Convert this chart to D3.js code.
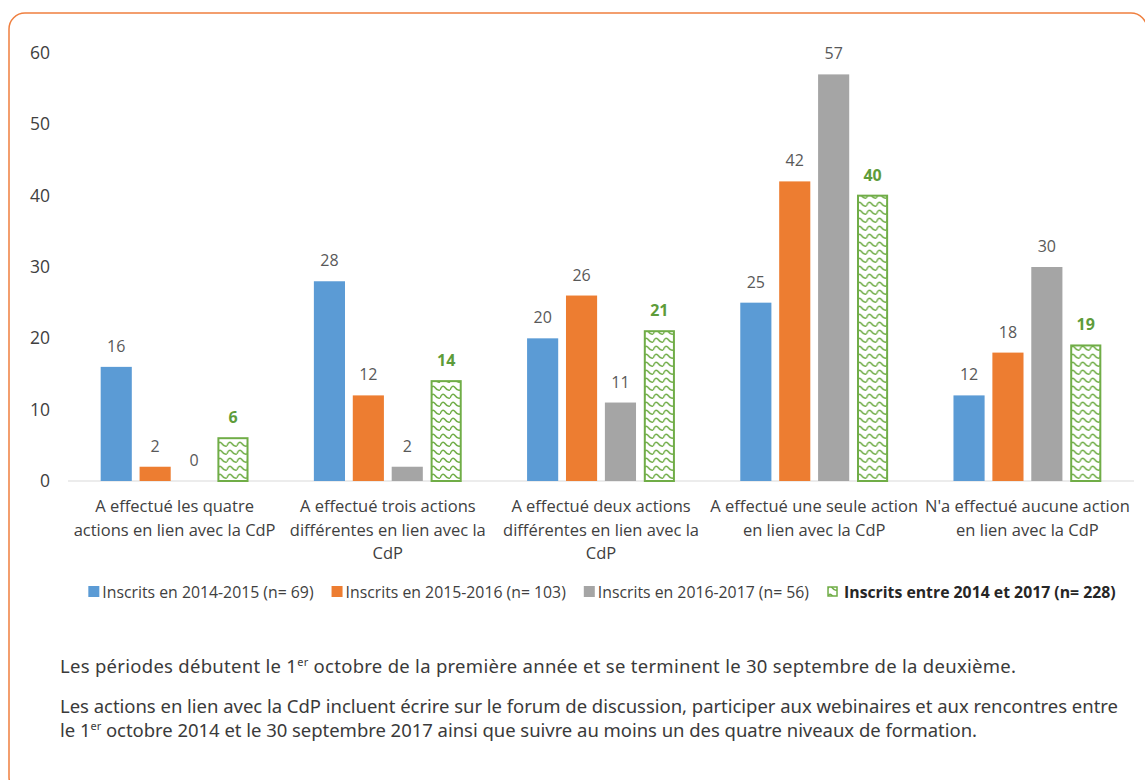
<!DOCTYPE html>
<html>
<head>
<meta charset="utf-8">
<script src="https://cdn.jsdelivr.net/npm/d3@7"></script>
<style>
  body { margin: 0; background: #fff; }
  svg { display: block; font-family: "Open Sans", sans-serif; }
</style>
</head>
<body>
<script>
var categories = [
  ["A effectué les quatre", "actions en lien avec la CdP"],
  ["A effectué trois actions", "différentes en lien avec la", "CdP"],
  ["A effectué deux actions", "différentes en lien avec la", "CdP"],
  ["A effectué une seule action", "en lien avec la CdP"],
  ["N'a effectué aucune action", "en lien avec la CdP"]
];
var seriesNames = [
  "Inscrits en 2014-2015 (n= 69)",
  "Inscrits en 2015-2016 (n= 103)",
  "Inscrits en 2016-2017 (n= 56)",
  "Inscrits entre 2014 et 2017 (n= 228)"
];
var s2014 = [16, 28, 20, 25, 12];
var s2015 = [2, 12, 26, 42, 18];
var s2016 = [0, 2, 11, 57, 30];
var sAll = [6, 14, 21, 40, 19];
var yTicks = [0, 10, 20, 30, 40, 50, 60];
var colors = ["#5b9bd5", "#ed7d31", "#a5a5a5", "#70ad47"];

var series = [s2014, s2015, s2016, sAll];

var W = 1145, H = 780;
var svg = d3.select("body").append("svg").attr("width", W).attr("height", H);

// frame
svg.append("rect")
  .attr("x", 9).attr("y", 13).attr("width", 1138).attr("height", 780)
  .attr("rx", 16).attr("ry", 16)
  .attr("fill", "none").attr("stroke", "#ef7f3f").attr("stroke-width", 1.5);

var defs = svg.append("defs");
var pat = defs.append("pattern")
  .attr("id", "wave").attr("patternUnits", "userSpaceOnUse")
  .attr("width", 10).attr("height", 8);
pat.append("rect").attr("width", 10).attr("height", 8).attr("fill", "#fff");
pat.append("path")
  .attr("d", "M0,6 Q2.5,0 5,3.5 T10,6")
  .attr("fill", "none").attr("stroke", "#70ad47").attr("stroke-width", 1.5);

var x0 = d3.scaleBand().domain(d3.range(categories.length)).range([68, 1134]).paddingInner(0.27).paddingOuter(0.135);
var x1 = d3.scaleBand().domain(d3.range(4)).range([0, x0.bandwidth()]).paddingInner(0.2).paddingOuter(0.1);
var y = d3.scaleLinear().domain([0, 60]).range([481, 53]);

// y tick labels
svg.selectAll(".ytick").data(yTicks).enter().append("text")
  .attr("x", 50).attr("y", function(d) { return y(d); })
  .attr("dy", "0.35em").attr("text-anchor", "end")
  .attr("font-size", 17.5).attr("fill", "#404040")
  .text(function(d) { return d; });

// baseline
svg.append("line")
  .attr("x1", 68).attr("x2", 1134).attr("y1", y(0)).attr("y2", y(0))
  .attr("stroke", "#d9d9d9").attr("stroke-width", 1);

var groups = svg.selectAll(".grp").data(categories).enter().append("g")
  .attr("transform", function(d, i) { return "translate(" + x0(i) + ",0)"; });

series.forEach(function(vals, si) {
  groups.append("rect")
    .attr("x", x1(si) + (si === 3 ? 1 : 0))
    .attr("width", x1.bandwidth() - (si === 3 ? 2 : 0))
    .attr("y", function(d, i) { return y(vals[i]); })
    .attr("height", function(d, i) { return y(0) - y(vals[i]); })
    .attr("fill", si === 3 ? "url(#wave)" : colors[si])
    .attr("stroke", si === 3 ? "#70ad47" : "none")
    .attr("stroke-width", 2);
  groups.append("text")
    .attr("x", x1(si) + x1.bandwidth() / 2)
    .attr("y", function(d, i) { return y(vals[i]) - 15; })
    .attr("text-anchor", "middle")
    .attr("font-size", 16)
    .attr("font-weight", si === 3 ? "bold" : "normal")
    .attr("fill", si === 3 ? "#5e9c3a" : "#595959")
    .text(function(d, i) { return vals[i]; });
});

// category labels
groups.append("text")
  .attr("text-anchor", "middle")
  .attr("font-size", 16.5).attr("fill", "#404040")
  .each(function(d) {
    var t = d3.select(this);
    d.forEach(function(line, li) {
      t.append("tspan").attr("x", x0.bandwidth() / 2).attr("y", 512 + li * 23.5).text(line);
    });
  });

// legend
var leg = svg.append("g");
var lx = 0;
seriesNames.forEach(function(name, i) {
  var g = leg.append("g").attr("transform", "translate(" + lx + ",0)");
  if (i === 3) {
    g.append("rect").attr("x", 1).attr("y", -5).attr("width", 9).attr("height", 9)
      .attr("fill", "url(#wave)").attr("stroke", "#70ad47").attr("stroke-width", 1.5);
  } else {
    g.append("rect").attr("x", 0).attr("y", -6).attr("width", 11).attr("height", 11).attr("fill", colors[i]);
  }
  var t = g.append("text").attr("x", i === 3 ? 17 : 14).attr("y", 0).attr("dy", "0.35em")
    .attr("font-size", 15.8).attr("fill", i === 3 ? "#262626" : "#404040")
    .attr("font-weight", i === 3 ? "bold" : "normal")
    .text(name);
  lx += (i === 3 ? 17 : 14) + t.node().getComputedTextLength() + 18;
});
var legW = lx - 18;
leg.attr("transform", "translate(" + (602 - legW / 2) + ",592)");

// footnotes
var notes = svg.append("g").attr("font-size", 18.5).attr("fill", "#3a3a3a")
  .attr("font-family", "'Noto Sans', sans-serif");
var n1 = notes.append("text").attr("x", 60).attr("y", 673)
  .attr("textLength", 956).attr("lengthAdjust", "spacing");
n1.append("tspan").text("Les périodes débutent le 1");
n1.append("tspan").attr("font-size", 11).attr("dy", -7).text("er");
n1.append("tspan").attr("dy", 7).text(" octobre de la première année et se terminent le 30 septembre de la deuxième.");
notes.append("text").attr("x", 60).attr("y", 713)
  .attr("textLength", 1058).attr("lengthAdjust", "spacing")
  .text("Les actions en lien avec la CdP incluent écrire sur le forum de discussion, participer aux webinaires et aux rencontres entre");
var n3 = notes.append("text").attr("x", 60).attr("y", 737)
  .attr("textLength", 917).attr("lengthAdjust", "spacing");
n3.append("tspan").text("le 1");
n3.append("tspan").attr("font-size", 11).attr("dy", -7).text("er");
n3.append("tspan").attr("dy", 7).text(" octobre 2014 et le 30 septembre 2017 ainsi que suivre au moins un des quatre niveaux de formation.");
</script>
</body>
</html>
